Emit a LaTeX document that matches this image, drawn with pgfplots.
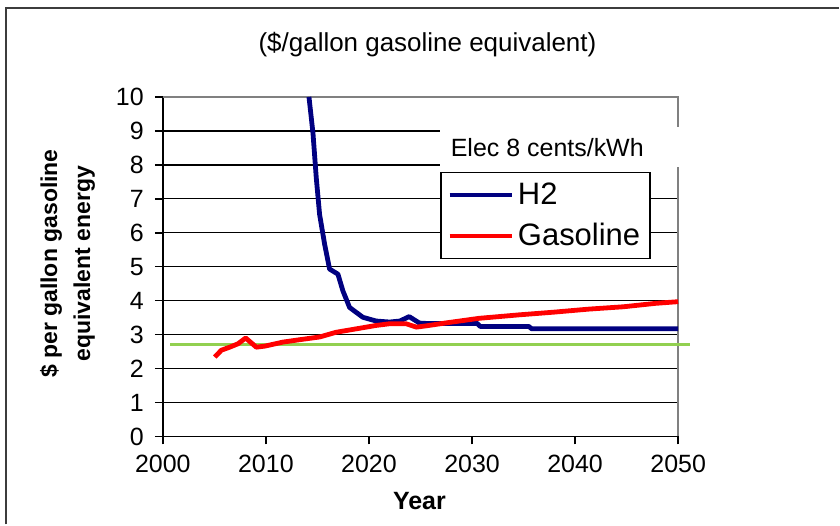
\documentclass[border=0pt]{standalone}
\usepackage{fontspec}
\setmainfont{Liberation Sans}
\usepackage{pgfplots}
\pgfplotsset{compat=1.18}
\definecolor{h2blue}{RGB}{0,0,128}
\definecolor{gasred}{RGB}{255,0,0}
\definecolor{refgreen}{RGB}{146,208,80}
\definecolor{framegray}{RGB}{60,60,60}

\begin{document}
\begin{tikzpicture}
\begin{axis}[
  at={(0pt,0pt)}, anchor=origin,
  scale only axis,
  width=258pt, height=170pt,
  xmin=2000, xmax=2050, ymin=0, ymax=10,
  clip=false,
  axis lines*=left,
  axis line style={line width=0.8pt, black},
  xtick={2000,2010,...,2050},
  ytick={0,1,...,9},
  extra y ticks={10},
  extra y tick style={grid=none},
  ymajorgrids=true,
  major grid style={black, line width=0.7pt},
  tick align=outside,
  major tick length=4pt,
  tick style={black, line width=0.8pt},
  /pgf/number format/assume math mode=true,
  /pgf/number format/1000 sep={},
  tick label style={font=\fontsize{12.5}{14}\selectfont},
  xticklabel style={yshift=-2pt},
  yticklabel style={xshift=-2pt},
  xlabel={Year},
  xlabel style={at={(rel axis cs:0.498,-0.19)}, anchor=center, font=\fontsize{12.5}{14}\selectfont\bfseries},
  ylabel={\$ per gallon gasoline\\equivalent energy},
  ylabel style={at={(rel axis cs:-0.185,0.509)}, anchor=center, align=center,
    font=\fontsize{11.5}{16.5}\selectfont\bfseries},
  legend style={at={(axis cs:2026.94,7.79)}, anchor=north west,
    draw=black, line width=0.75pt, fill=white,
    font=\fontsize{15.5}{18}\selectfont,
    inner xsep=3pt, inner ysep=3pt, row sep=4pt},
  legend cell align=left,
  legend image code/.code={%
    \path (0pt,0pt) -- (31pt,0pt);
    \draw[#1, line width=2.4pt, line cap=round] (4pt,0pt) -- (28pt,0pt);},
]
% gray plot-area border top and right
\draw[gray, line width=0.8pt] (rel axis cs:0,1) -- (rel axis cs:1,1) -- (rel axis cs:1,0);

\addplot[refgreen, line width=1.5pt, forget plot] coordinates {(2000.7,2.7)(2051.1,2.7)};

\addplot[h2blue, line width=2.4pt, line join=round] coordinates {
 (2014.18,10.0)(2014.57,8.93)(2014.89,7.61)(2015.21,6.54)(2015.7,5.66)
 (2016.18,4.93)(2016.99,4.78)(2017.47,4.29)(2018.12,3.80)(2019.41,3.51)
 (2020.7,3.40)(2022.0,3.37)(2023.0,3.40)(2023.9,3.53)(2024.9,3.34)
 (2025.5,3.33)(2030.5,3.33)(2030.8,3.24)(2035.5,3.24)(2035.8,3.17)(2050,3.17)};
\addlegendentry{H2}

\addplot[gasred, line width=2.4pt, line join=round] coordinates {
 (2005.04,2.34)(2005.68,2.54)(2006.49,2.63)(2007.3,2.73)(2008.04,2.90)
 (2009.07,2.63)(2009.88,2.66)(2011.66,2.78)(2013.28,2.85)(2015.21,2.93)
 (2016.83,3.07)(2018.77,3.17)(2020.7,3.27)(2022.0,3.32)(2023.6,3.32)
 (2024.6,3.22)(2025.6,3.26)(2027.6,3.35)(2030.7,3.48)(2034.5,3.58)
 (2037.9,3.66)(2041.3,3.75)(2044.7,3.82)(2047.8,3.92)(2050,3.97)};
\addlegendentry{Gasoline}

% white box with the electricity price note
\fill[white] (axis cs:2026.94,7.94) rectangle (axis cs:2051.5,9.12);
\node[font=\fontsize{12.5}{14}\selectfont] at (axis cs:2037.3,8.5) {Elec 8 cents/kWh};
\end{axis}
% title and outer frame
\node[font=\fontsize{13}{15}\selectfont] at (132.5pt,196pt) {(\$/gallon gasoline equivalent)};
\draw[framegray, line width=1pt] (-78.5pt,-44pt) -- (-78.5pt,214.5pt) -- (338.5pt,214.5pt);
\useasboundingbox (-81.5pt,-44pt) rectangle (338.5pt,218.5pt);
\end{tikzpicture}
\end{document}
